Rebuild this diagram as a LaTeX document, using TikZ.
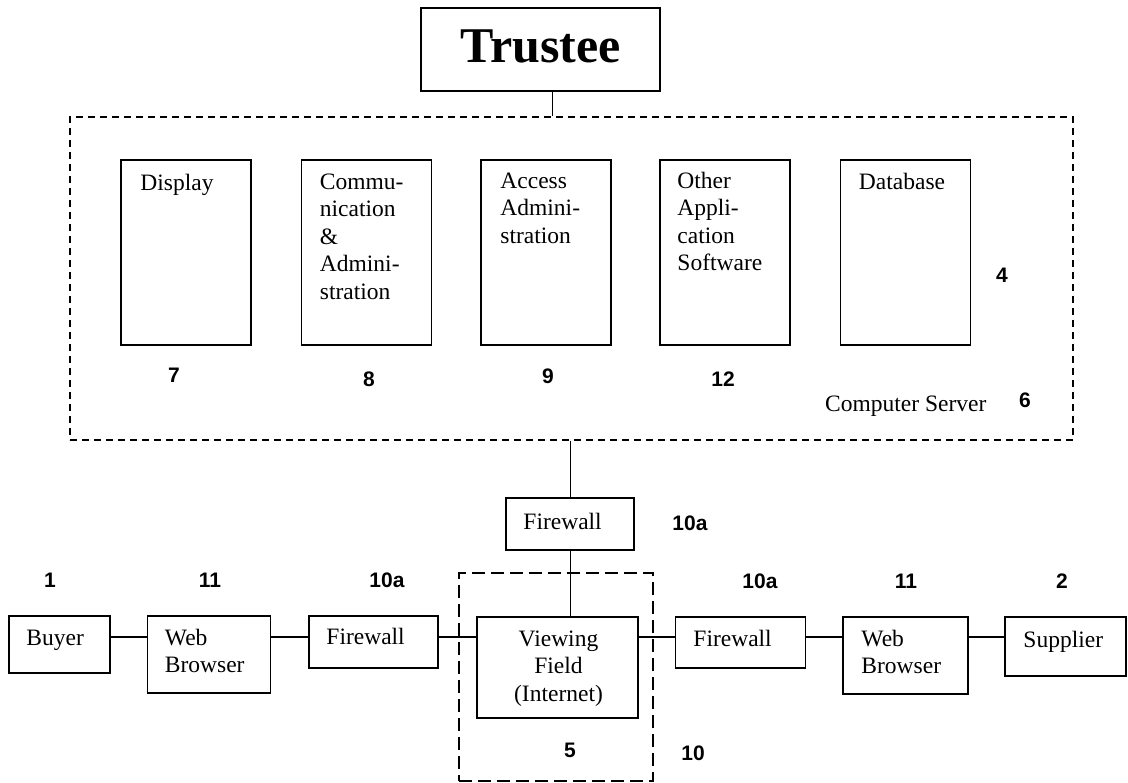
\documentclass[tikz,border=0pt]{standalone}
\usepackage{fontspec}
\setmainfont{Liberation Serif}
\newfontfamily\numfont{Liberation Sans}
\begin{document}
\begin{tikzpicture}[x=1pt,y=-1pt,
  box/.style={draw, line width=1.5pt, rectangle, inner sep=0pt},
  dashbox/.style={draw, line width=1.3pt, dash pattern=on 7pt off 5pt, rectangle, inner sep=0pt},
  netbox/.style={draw, line width=1.3pt, dash pattern=on 13pt off 6pt, rectangle, inner sep=0pt},
  txt/.style={inner sep=0pt, anchor=base west, font=\fontsize{23.5}{27.5}\selectfont},
  ctxt/.style={inner sep=0pt, anchor=base, font=\fontsize{23.5}{27.5}\selectfont},
  num/.style={inner sep=0pt, anchor=base, font=\fontsize{21}{24}\selectfont\numfont\bfseries},
  link/.style={line width=2.3pt},
  drop/.style={line width=1pt}]
\useasboundingbox (0,0) rectangle (1128,783);

% Trustee
\node[box, minimum width=239pt, minimum height=83pt] (trustee) at (540.5,49.5) {};
\node[inner sep=0pt, anchor=base, font=\fontsize{50}{56}\selectfont\bfseries] (trusteetxt) at (540.5,63) {Trustee};

% computer server
\node[dashbox, minimum width=1003pt, minimum height=323pt] (server) at (571.5,278.5) {};
\foreach \n/\cx in {display/186, comm/366.5, access/546, other/725, database/905.5}
  \node[box, minimum width=130pt, minimum height=185pt] (\n) at (\cx,252.5) {};

\node[txt] (displaytxt) at ([shift={(20,31)}]display.north west) {\parbox[t]{110pt}{\raggedright Display}};
\node[txt] (commtxt) at ([shift={(19,30)}]comm.north west) {\parbox[t]{110pt}{\raggedright Commu-\\nication\\\&\\Admini-\\stration}};
\node[txt] (accesstxt) at ([shift={(20,29)}]access.north west) {\parbox[t]{110pt}{\raggedright Access\\Admini-\\stration}};
\node[txt] (othertxt) at ([shift={(18,29)}]other.north west) {\parbox[t]{110pt}{\raggedright Other\\Appli-\\cation\\Software}};
\node[txt] (databasetxt) at ([shift={(19,30)}]database.north west) {\parbox[t]{110pt}{\raggedright Database}};

\node[num] (n7) at (174,383) {7};
\node[num] (n8) at (369,387) {8};
\node[num] (n9) at (548,384) {9};
\node[num] (n12) at (723,387) {12};
\node[num] (n4) at (1002,283) {4};
\node[txt] (servertxt) at (825,412) {Computer Server};
\node[num] (n6) at (1025,408) {6};

% trustee to server
\draw[drop] ([xshift=11.5pt]trustee.south) -- ([xshift=11.5pt]trustee.south |- server.north);

% viewing field and its firewall
\node[box, minimum width=128pt, minimum height=52pt] (fwtop) at (570,524) {};
\node[txt] (fwtoptxt) at ([shift={(18,32)}]fwtop.north west) {Firewall};
\node[num] (n10atop) at (690,530) {10a};

\node[netbox, minimum width=194pt, minimum height=208pt] (net) at (556,677) {};
\node[box, minimum width=161pt, minimum height=101pt] (view) at (557.5,667.5) {};
\node[ctxt] (viewtxt) at ([shift={(1,30)}]view.north) {\parbox[t]{150pt}{\centering Viewing\\Field\\(Internet)}};
\node[num] (n5) at (570,757) {5};
\node[num] (n10) at (693,760) {10};

\draw[drop] (fwtop.north |- server.south) -- (fwtop.north);
\draw[drop] (fwtop.south) -- (fwtop.south |- view.north);

% buyer side
\node[box, minimum width=101pt, minimum height=57pt] (buyer) at (59.5,644.5) {};
\node[txt] (buyertxt) at ([shift={(18,30)}]buyer.north west) {Buyer};
\node[box, minimum width=123pt, minimum height=77pt] (wbl) at (209,654.5) {};
\node[txt] (wbltxt) at ([shift={(18,30)}]wbl.north west) {\parbox[t]{100pt}{\raggedright Web\\Browser}};
\node[box, minimum width=129pt, minimum height=52pt] (fwl) at (373.5,642) {};
\node[txt] (fwltxt) at ([shift={(18,29.5)}]fwl.north west) {Firewall};

% supplier side
\node[box, minimum width=130pt, minimum height=51pt] (fwr) at (740.5,642.5) {};
\node[txt] (fwrtxt) at ([shift={(18.5,30)}]fwr.north west) {Firewall};
\node[box, minimum width=125pt, minimum height=77pt] (wbr) at (905.5,655.5) {};
\node[txt] (wbrtxt) at ([shift={(19,30)}]wbr.north west) {\parbox[t]{100pt}{\raggedright Web\\Browser}};
\node[box, minimum width=121pt, minimum height=59pt] (supplier) at (1065.5,646.5) {};
\node[txt] (suppliertxt) at ([shift={(19,31)}]supplier.north west) {Supplier};

\node[num] (n1) at (50,587) {1};
\node[num] (n11l) at (210,587) {11};
\node[num] (n10al) at (387,587) {10a};
\node[num] (n10ar) at (760,588) {10a};
\node[num] (n11r) at (906,588) {11};
\node[num] (n2) at (1062,588) {2};

% chain of links
\coordinate (bus) at (0,637);
\draw[link] (buyer.east |- bus) -- (wbl.west |- bus);
\draw[link] (wbl.east |- bus) -- (fwl.west |- bus);
\draw[link] (fwl.east |- bus) -- (view.west |- bus);
\draw[link] (view.east |- bus) -- (fwr.west |- bus);
\draw[link] (fwr.east |- bus) -- (wbr.west |- bus);
\draw[link] (wbr.east |- bus) -- (supplier.west |- bus);
\end{tikzpicture}
\end{document}
